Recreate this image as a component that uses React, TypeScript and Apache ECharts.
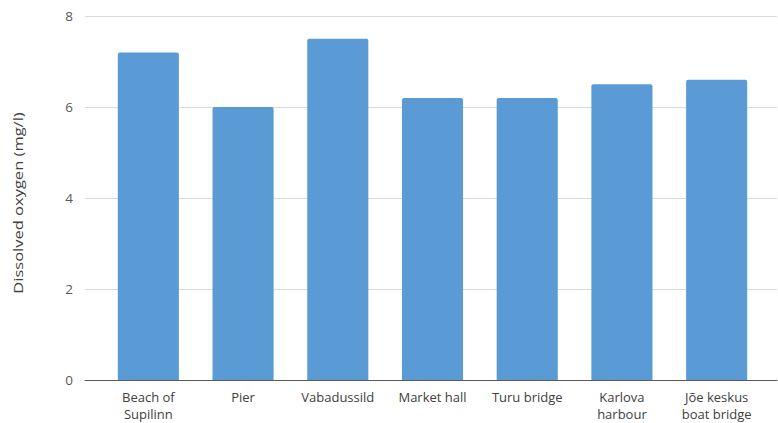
import React, { useEffect, useRef } from "react";
import * as echarts from "echarts";

const categories = [
  "Beach of\nSupilinn",
  "Pier",
  "Vabadussild",
  "Market hall",
  "Turu bridge",
  "Karlova\nharbour",
  "Jõe keskus\nboat bridge",
];
const oxygen = [7.2, 6.0, 7.5, 6.2, 6.2, 6.5, 6.6];
const yTicks = { min: 0, max: 8, interval: 2 };
const yName = "Dissolved oxygen (mg/l)";

export default function App() {
  const ref = useRef<HTMLDivElement>(null);
  useEffect(() => {
    if (!ref.current) return;
    const chart = echarts.init(ref.current, null, { renderer: "svg" });
    const font = "Open Sans";
    chart.setOption({
      animation: false,
      textStyle: { fontFamily: font },
      grid: [
        { left: 85, right: 1, top: 16, bottom: 43, containLabel: false, outerBoundsMode: "none" },
        { left: 101, right: 14, top: 16, bottom: 43, containLabel: false, outerBoundsMode: "none" },
      ],
      graphic: [
        {
          type: "text",
          x: 18,
          y: 203,
          rotation: Math.PI / 2,
          scaleX: 1.27,
          style: {
            text: yName,
            fontSize: 13,
            fontFamily: font,
            fill: "#404040",
            align: "center",
            verticalAlign: "middle",
          },
        },
      ],
      xAxis: [
        {
          gridIndex: 0,
          type: "category",
          data: [""],
          axisLine: { show: true, lineStyle: { color: "#595959", width: 1 } },
          axisTick: { show: false },
          axisLabel: { show: false },
        },
        {
          gridIndex: 1,
          type: "category",
          data: categories,
          axisLine: { show: false },
          axisTick: { show: false },
          axisLabel: {
            color: "#404040",
            fontSize: 13,
            fontFamily: font,
            lineHeight: 17,
            margin: 8,
            interval: 0,
          },
        },
      ],
      yAxis: [
        {
          gridIndex: 0,
          type: "value",
          min: yTicks.min,
          max: yTicks.max,
          interval: yTicks.interval,
          axisLine: { show: false },
          axisTick: { show: false },
          axisLabel: { color: "#595959", fontSize: 13.5, fontFamily: font, margin: 12 },
          splitLine: { lineStyle: { color: "#D9D9D9", width: 1 } },
        },
        {
          gridIndex: 1,
          type: "value",
          min: yTicks.min,
          max: yTicks.max,
          interval: yTicks.interval,
          show: false,
        },
      ],
      series: [
        {
          type: "bar",
          xAxisIndex: 1,
          yAxisIndex: 1,
          data: oxygen,
          barCategoryGap: "35.5%",
          itemStyle: { color: "#5B9BD5", borderRadius: [2, 2, 0, 0] },
          z: 1,
        },
      ],
    });
    return () => chart.dispose();
  }, []);
  return (
    <div
      ref={ref}
      style={{ position: "absolute", left: 0, top: 0, width: 778, height: 423 }}
    />
  );
}
